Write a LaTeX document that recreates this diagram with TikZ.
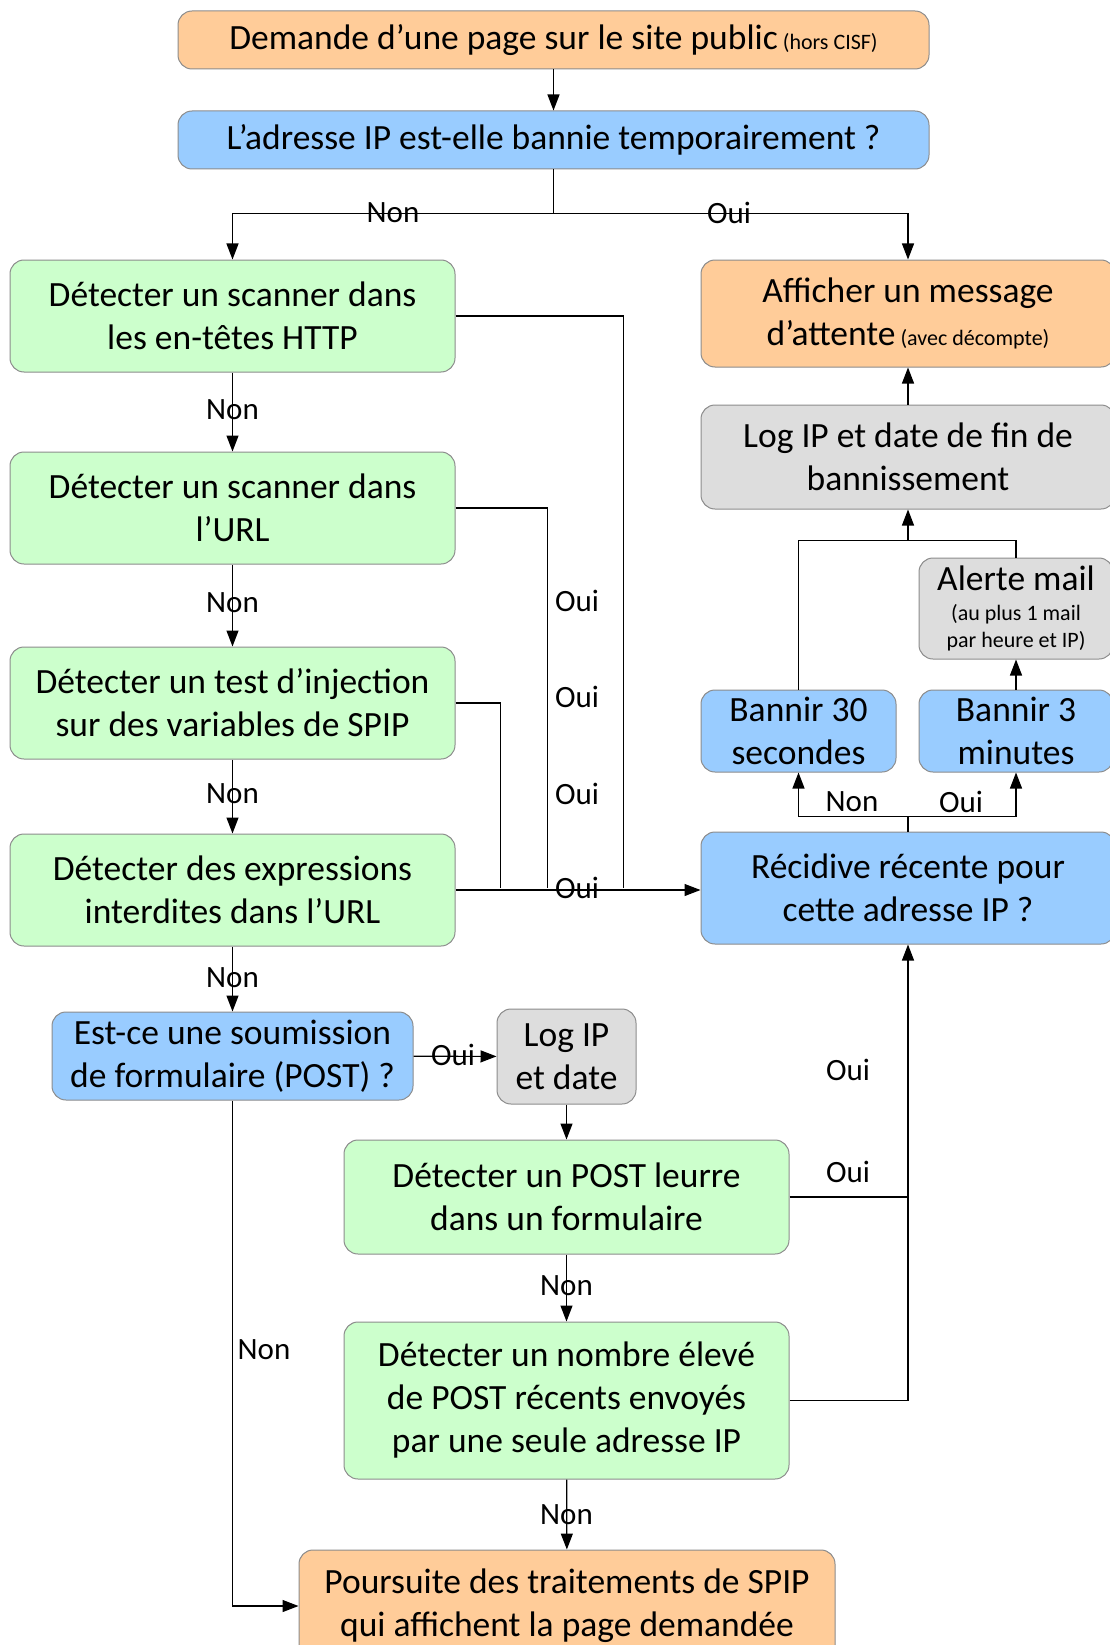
\documentclass[tikz,border=0pt]{standalone}
\usepackage{fontspec}
\setmainfont{Carlito}
\usetikzlibrary{arrows.meta,positioning,calc}
\definecolor{spiporange}{HTML}{FFCC99}
\definecolor{spipblue}{HTML}{99CCFF}
\definecolor{spipgreen}{HTML}{CCFFCC}
\definecolor{spipgrey}{HTML}{DDDDDD}
\definecolor{boxline}{HTML}{8C8C8C}
\newcommand{\petit}[1]{{\fontsize{22}{27}\selectfont #1}}
\tikzset{
    blk/.style={rectangle, draw=boxline, fill=#1, line width=1pt,
                rounded corners=14pt, align=center, inner sep=2pt,
                font=\fontsize{35.5}{43}\selectfont},
    arr/.style={-{Triangle[length=16pt,width=12pt]}, line width=1.2pt},
    ln/.style={line width=1.2pt},
    lbl/.style={font=\fontsize{31}{36}\selectfont, inner sep=0pt},
}

\begin{document}
\begin{tikzpicture}[x=1pt, y=-1pt, node distance=79pt,
    chk/.style={blk=spipgreen, minimum width=445pt, minimum height=112pt}]
    \useasboundingbox (0,0) rectangle (1109,1645);

    % entree et bannissement temporaire
    \node[blk=spiporange, minimum width=751pt, minimum height=58pt] (demande) at (553.5,40)
        {Demande d’une page sur le site public\petit{ (hors CISF)}};
    \node[blk=spipblue, minimum width=751pt, minimum height=58pt] (banni) at (553.5,140)
        {L’adresse IP est-elle bannie temporairement ?};

    % colonne des detections
    \node[chk] (scanhttp) at (232.5,316) {Détecter un scanner dans\\les en-têtes HTTP};
    \node[chk, below=of scanhttp]     (scanurl) {Détecter un scanner dans\\l’URL};
    \node[chk, below=82pt of scanurl] (inject)  {Détecter un test d’injection\\sur des variables de SPIP};
    \node[chk, below=74pt of inject]  (expr)    {Détecter des expressions\\interdites dans l'URL};
    \node[blk=spipblue, minimum width=361pt, minimum height=88pt] (post) at (232.5,1056)
        {Est-ce une soumission\\de formulaire (POST) ?};
    \node[blk=spipgrey, minimum width=139pt, minimum height=95pt] (logdate) at (566.5,1056.5)
        {Log IP\\et date};
    \node[chk, minimum height=114pt] (leurre) at (566.5,1197)
        {Détecter un POST leurre\\dans un formulaire};
    \node[chk, minimum height=157pt] (nombre) at (566.5,1400.5)
        {Détecter un nombre élevé\\de POST récents envoyés\\par une seule adresse IP};
    \node[blk=spiporange, minimum width=536pt, minimum height=112pt] (poursuite) at (567,1606)
        {Poursuite des traitements de SPIP\\qui affichent la page demandée};

    % colonne de droite
    \node[blk=spiporange, minimum width=414pt, minimum height=107pt] (afficher) at (908,313.5)
        {Afficher un message\\d’attente\petit{ (avec décompte)}};
    \node[blk=spipgrey, minimum width=414pt, minimum height=104pt] (logfin) at (908,457)
        {Log IP et date de fin de\\bannissement};
    \node[blk=spipgrey, minimum width=194pt, minimum height=101pt] (alerte) at (1016,608.5)
        {Alerte mail\\[-13pt]\petit{(au plus 1 mail}\\[-16pt]\petit{par heure et IP)}};
    \node[blk=spipblue, minimum width=195pt, minimum height=82pt] (ban30) at (798.5,731)
        {Bannir 30\\secondes};
    \node[blk=spipblue, minimum width=194pt, minimum height=82pt] (ban3) at (1016,731)
        {Bannir 3\\minutes};
    \node[blk=spipblue, minimum width=414pt, minimum height=112pt] (recidive) at (908,888)
        {Récidive récente pour\\cette adresse IP ?};

    % liaisons
    \draw[arr] (demande) -- (banni);
    \draw[ln] (banni.south) -- ++(0,44) coordinate (split);
    \draw[arr] (split) -| (scanhttp.north);
    \draw[arr] (split) -| (afficher.north);
    \draw[arr] (scanhttp) -- (scanurl);
    \draw[arr] (scanurl) -- (inject);
    \draw[arr] (inject) -- (expr);
    \draw[arr] (expr) -- (post);

    \draw[ln] (scanhttp.east) -| ([xshift=-77pt]recidive.west);
    \draw[ln] (scanurl.east) -| ([xshift=-153pt]recidive.west);
    \draw[ln] (inject.east) -| ([xshift=-200pt]recidive.west);
    \draw[arr] (expr.east) -- (expr.east -| recidive.west);

    \draw[ln] (recidive.north) -- ++(0,-15) coordinate (rsplit);
    \draw[arr] (rsplit) -| (ban30.south);
    \draw[arr] (rsplit) -| (ban3.south);
    \draw[arr] (ban3) -- (alerte);
    \coordinate (bjoin) at ([yshift=-31pt]logfin.south);
    \draw[ln] (ban30.north) |- (bjoin) -| (alerte.north);
    \draw[arr] (bjoin) -- (logfin.south);
    \draw[arr] (logfin) -- (afficher);

    \draw[arr] (post) -- (logdate);
    \draw[arr] (logdate) -- (leurre);
    \draw[arr] (leurre) -- (nombre);
    \draw[arr] (nombre) -- (poursuite);
    \draw[arr] (leurre.east) -| (recidive.south);
    \draw[ln] (nombre.east) -| (leurre.east -| recidive.south);
    \draw[arr] (post.south) |- (poursuite.west);

    % etiquettes
    \node[lbl] (nonA) at (393,213) {Non};
    \node[lbl] (ouiA) at (729,213) {Oui};
    \node[lbl] (nonB) at (232.5,410) {Non};
    \node[lbl] (nonC) at (232.5,603) {Non};
    \node[lbl] (nonD) at (232.5,794) {Non};
    \node[lbl] (nonE) at (232.5,978) {Non};
    \node[lbl] (ouiB) at (577,601) {Oui};
    \node[lbl] (ouiC) at (577,697) {Oui};
    \node[lbl] (ouiD) at (577,794) {Oui};
    \node[lbl] (ouiE) at (577,888) {Oui};
    \node[lbl] (nonF) at (852,802) {Non};
    \node[lbl] (ouiF) at (961,802) {Oui};
    \node[lbl] (ouiG) at (453,1055) {Oui};
    \node[lbl] (nonG) at (566.5,1286) {Non};
    \node[lbl] (nonH) at (566.5,1515) {Non};
    \node[lbl] (ouiH) at (848,1070) {Oui};
    \node[lbl] (ouiI) at (848,1172) {Oui};
    \node[lbl] (nonI) at (264,1350) {Non};
\end{tikzpicture}
\end{document}
